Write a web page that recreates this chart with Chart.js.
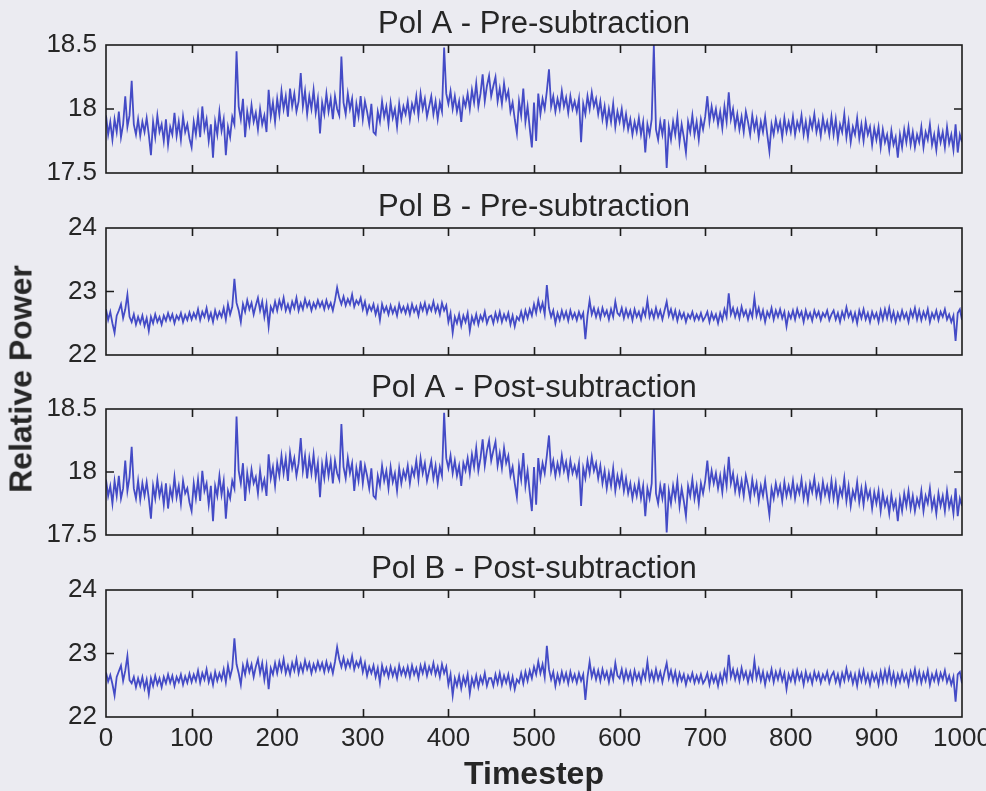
<!DOCTYPE html>
<html>
<head>
<meta charset="utf-8">
<script src="https://cdn.jsdelivr.net/npm/chart.js@4.4.1/dist/chart.umd.min.js"></script>
<style>
  body { margin: 0; background: #ebebf1; }
  #wrap { position: relative; width: 986px; height: 791px; overflow: hidden; }
  #wrap canvas { position: absolute; left: 0; }
  #ylabel {
    position: absolute; left: 21px; top: 379px;
    transform: translate(-50%, -50%) rotate(-90deg);
    font: bold 32px 'Liberation Sans', Arial, sans-serif;
    color: #262626; white-space: nowrap;
  }
</style>
</head>
<body>
<div id="wrap">
  <canvas id="c1" width="986" height="189" style="top:0px"></canvas>
  <canvas id="c2" width="986" height="188" style="top:183px"></canvas>
  <canvas id="c3" width="986" height="187" style="top:364px"></canvas>
  <canvas id="c4" width="986" height="246" style="top:545px"></canvas>
  <div id="ylabel">Relative Power</div>
</div>
<script>
// one sample every 2.5 timesteps (0..1000), 20 per row = 50 timesteps
const STEP = 2.5;
const xTickValues = [0, 100, 200, 300, 400, 500, 600, 700, 800, 900, 1000];
const polATicks = [17.5, 18, 18.5];
const polBTicks = [22, 23, 24];

const polAPre = [
  17.95, 17.8, 17.9, 17.76, 17.92, 17.82, 17.98, 17.78, 17.88, 18.1, 17.86, 17.95, 18.22, 17.88, 17.8, 17.92, 17.79, 17.9, 17.82, 17.93,
  17.8, 17.64, 17.9, 17.78, 17.95, 17.82, 17.88, 17.75, 17.92, 17.72, 17.86, 17.8, 17.97, 17.79, 17.9, 17.76, 17.94, 17.82, 17.88, 17.77,
  17.7, 17.9, 17.8, 17.95, 17.78, 18.02, 17.84, 17.92, 17.75, 17.88, 17.62, 17.9, 17.8, 17.98, 17.83, 17.92, 17.64, 17.86, 17.78, 17.94,
  17.88, 18.45, 18.02, 17.92, 18.08, 17.78, 17.98, 17.88, 18.03, 17.9, 17.97, 17.84, 18.0, 17.88, 17.95, 17.82, 18.15, 17.94, 18.05, 17.9,
  18.08, 17.96, 18.14, 18.0, 18.1, 17.94, 18.16, 18.02, 18.12, 17.98, 18.06, 18.28, 18.02, 18.14, 17.96, 18.1, 18.0, 18.15, 17.97, 18.08,
  17.81, 18.05, 17.96, 18.12, 17.98, 18.08, 17.92, 18.1, 18.0, 17.95, 18.41, 18.05, 17.96, 18.12, 18.0, 18.08, 17.86, 18.04, 17.94, 18.1,
  17.92, 18.06, 17.98, 17.88, 18.04, 17.82, 17.8, 17.98, 17.9, 18.06, 17.94, 18.02, 17.88, 18.05, 17.93, 18.0, 17.86, 18.04, 17.92, 18.02,
  17.96, 18.06, 17.92, 18.04, 17.98, 18.1, 17.95, 18.12, 18.0, 18.08, 17.94, 18.02, 18.1, 17.96, 18.06, 17.92, 18.05, 17.98, 18.48, 18.12,
  18.04, 18.14, 18.0, 18.1, 17.98, 18.06, 17.9, 18.08, 18.02, 18.12, 18.0, 18.15, 18.05, 18.2, 18.02, 18.12, 18.27, 18.06, 18.18, 18.26,
  18.1, 18.18, 18.25, 18.06, 18.16, 18.04, 18.2, 18.08, 18.14, 17.98, 18.05, 17.92, 17.81, 18.06, 17.95, 18.16, 17.9, 18.02, 17.85, 17.7,
  18.05, 17.75, 18.12, 17.96, 18.08, 18.0, 18.14, 18.31, 18.02, 18.1, 17.98, 18.08, 18.0, 18.14, 18.02, 18.09, 17.97, 18.1, 18.0, 18.06,
  17.98, 18.08, 17.74, 18.04, 17.96, 18.1, 18.0, 18.13, 18.02, 18.08, 17.96, 18.06, 17.92, 18.02, 17.88, 18.0, 17.9, 18.04, 17.86, 17.98,
  17.9, 18.0, 17.86, 17.96, 17.84, 17.92, 17.8, 17.9, 17.82, 17.93, 17.8, 17.9, 17.66, 17.88, 17.8, 17.92, 18.5, 17.84, 17.76, 17.9,
  17.8, 17.92, 17.54, 17.86, 17.76, 17.9, 17.8, 17.94, 17.74, 17.88, 17.78, 17.66, 17.9, 17.82, 17.95, 17.8, 17.9, 17.76, 17.92, 17.84,
  17.94, 18.1, 17.9, 18.02, 17.92, 18.0, 17.88, 17.98, 17.85, 18.02, 17.9, 18.13, 17.92, 18.0, 17.86, 17.96, 17.84, 17.94, 17.82, 17.98,
  17.9, 17.8, 17.95, 17.84, 17.92, 17.78, 17.9, 17.82, 17.94, 17.8, 17.67, 17.88, 17.8, 17.92, 17.83, 17.9, 17.78, 17.93, 17.82, 17.9,
  17.82, 17.94, 17.8, 17.9, 17.84, 17.95, 17.8, 17.9, 17.78, 17.92, 17.85, 17.96, 17.82, 17.9, 17.79, 17.93, 17.83, 17.9, 17.8, 17.94,
  17.8, 17.92, 17.76, 17.88, 17.82, 17.96, 17.78, 17.9, 17.74, 17.86, 17.8, 17.93, 17.77, 17.88, 17.75, 17.9, 17.8, 17.86, 17.72, 17.85,
  17.76, 17.86, 17.7, 17.84, 17.74, 17.8, 17.68, 17.83, 17.72, 17.78, 17.62, 17.8, 17.7, 17.84, 17.74, 17.86, 17.72, 17.82, 17.7, 17.8,
  17.74, 17.86, 17.7, 17.82, 17.76, 17.88, 17.72, 17.8, 17.68, 17.84, 17.74, 17.82, 17.7, 17.86, 17.73, 17.8, 17.68, 17.88, 17.66, 17.8,
  17.74
];

const polBPre = [
  22.72, 22.55, 22.68, 22.5, 22.35, 22.62, 22.7, 22.8, 22.58, 22.72, 22.95, 22.6, 22.52, 22.64, 22.48, 22.6, 22.5, 22.62, 22.46, 22.58,
  22.38, 22.6, 22.5, 22.64, 22.52, 22.6, 22.48, 22.62, 22.54, 22.66, 22.55, 22.64, 22.5, 22.62, 22.56, 22.66, 22.52, 22.63, 22.55, 22.67,
  22.56, 22.66, 22.58, 22.72, 22.55, 22.68, 22.6, 22.74, 22.56, 22.66, 22.52, 22.7, 22.58, 22.68, 22.6, 22.74, 22.56, 22.8, 22.64, 22.76,
  23.2, 22.82, 22.7, 22.52, 22.8, 22.68, 22.86, 22.72, 22.82, 22.64, 22.78, 22.9, 22.7, 22.84, 22.6, 22.8, 22.45, 22.76, 22.68, 22.84,
  22.7, 22.86, 22.74, 22.9, 22.7, 22.8, 22.68, 22.84, 22.74, 22.9, 22.7, 22.82, 22.72, 22.88, 22.76, 22.84, 22.7, 22.82, 22.74, 22.86,
  22.76, 22.84, 22.72, 22.86, 22.74, 22.82, 22.7, 22.86, 23.06, 22.9, 22.8, 22.92, 22.78, 22.88, 22.8, 22.95, 22.76, 22.86, 22.8, 22.9,
  22.72, 22.84, 22.66, 22.78, 22.7, 22.8, 22.64, 22.76, 22.55, 22.8, 22.68, 22.76, 22.64, 22.78, 22.66, 22.75, 22.62, 22.8, 22.68, 22.76,
  22.66, 22.78, 22.64, 22.8, 22.68, 22.76, 22.62, 22.8, 22.7, 22.82, 22.66, 22.78, 22.7, 22.84, 22.68, 22.78, 22.64, 22.82, 22.7, 22.78,
  22.52, 22.66, 22.35, 22.6, 22.5, 22.64, 22.46, 22.62, 22.52, 22.66, 22.38, 22.6, 22.5, 22.64, 22.48, 22.62, 22.54, 22.68, 22.5, 22.6,
  22.62, 22.5, 22.66, 22.54, 22.68, 22.52, 22.64, 22.55, 22.66, 22.48, 22.62, 22.45, 22.6, 22.55, 22.68, 22.54, 22.7, 22.58, 22.72, 22.62,
  22.8, 22.66, 22.86, 22.7, 22.82, 22.64, 23.1, 22.74, 22.6, 22.7, 22.5, 22.66, 22.55, 22.7, 22.58, 22.68, 22.54, 22.7, 22.58, 22.66,
  22.55, 22.68, 22.58, 22.66, 22.25, 22.62, 22.86, 22.64, 22.74, 22.6, 22.72, 22.58, 22.74, 22.62, 22.7, 22.56, 22.72, 22.6, 22.84, 22.66,
  22.62, 22.74, 22.58, 22.72, 22.6, 22.7, 22.55, 22.72, 22.6, 22.68, 22.56, 22.72, 22.62, 22.86, 22.6, 22.7, 22.58, 22.74, 22.6, 22.7,
  22.56, 22.7, 22.84, 22.62, 22.72, 22.58, 22.7, 22.54, 22.68, 22.58, 22.66, 22.52, 22.64, 22.58, 22.68, 22.55, 22.64, 22.56, 22.66, 22.54,
  22.6, 22.68, 22.52, 22.66, 22.56, 22.64, 22.5, 22.66, 22.55, 22.72, 22.6, 22.97, 22.64, 22.74, 22.6, 22.72, 22.58, 22.76, 22.62, 22.7,
  22.56, 22.7, 22.6, 22.9, 22.62, 22.74, 22.58, 22.7, 22.52, 22.68, 22.6, 22.74, 22.56, 22.7, 22.6, 22.72, 22.58, 22.68, 22.45, 22.66,
  22.58, 22.7, 22.56, 22.72, 22.6, 22.68, 22.52, 22.7, 22.58, 22.66, 22.54, 22.7, 22.6, 22.68, 22.55, 22.66, 22.6, 22.7, 22.55, 22.64,
  22.7, 22.56, 22.66, 22.52, 22.68, 22.58, 22.75, 22.6, 22.68, 22.54, 22.66, 22.5, 22.7, 22.58, 22.72, 22.56, 22.66, 22.52, 22.68, 22.58,
  22.66, 22.52, 22.7, 22.56, 22.72, 22.58, 22.74, 22.55, 22.68, 22.52, 22.66, 22.56, 22.7, 22.58, 22.66, 22.52, 22.7, 22.6, 22.74, 22.56,
  22.7, 22.55, 22.68, 22.58, 22.72, 22.52, 22.66, 22.58, 22.7, 22.55, 22.68, 22.6, 22.72, 22.56, 22.64, 22.52, 22.62, 22.22, 22.66, 22.72,
  22.55
];

const polAPost = [
  17.94, 17.81, 17.89, 17.75, 17.93, 17.81, 17.97, 17.79, 17.87, 18.09, 17.85, 17.96, 18.2, 17.87, 17.79, 17.93, 17.78, 17.91, 17.81, 17.92,
  17.79, 17.63, 17.89, 17.79, 17.94, 17.81, 17.89, 17.74, 17.91, 17.71, 17.87, 17.79, 17.96, 17.8, 17.89, 17.75, 17.93, 17.83, 17.87, 17.76,
  17.69, 17.91, 17.79, 17.94, 17.77, 18.01, 17.85, 17.91, 17.74, 17.89, 17.61, 17.89, 17.81, 17.97, 17.82, 17.93, 17.63, 17.85, 17.79, 17.93,
  17.87, 18.44, 18.01, 17.91, 18.07, 17.77, 17.99, 17.87, 18.02, 17.91, 17.96, 17.83, 18.01, 17.87, 17.94, 17.81, 18.14, 17.95, 18.04, 17.89,
  18.07, 17.97, 18.13, 17.99, 18.11, 17.93, 18.15, 18.03, 18.11, 17.97, 18.07, 18.27, 18.01, 18.13, 17.95, 18.11, 17.99, 18.14, 17.96, 18.07,
  17.8, 18.06, 17.95, 18.11, 17.97, 18.09, 17.91, 18.09, 17.99, 17.94, 18.38, 18.04, 17.95, 18.11, 17.99, 18.07, 17.85, 18.03, 17.93, 18.09,
  17.91, 18.05, 17.97, 17.87, 18.03, 17.81, 17.79, 17.97, 17.89, 18.05, 17.93, 18.01, 17.87, 18.04, 17.92, 17.99, 17.85, 18.03, 17.91, 18.01,
  17.95, 18.05, 17.91, 18.03, 17.97, 18.09, 17.94, 18.11, 17.99, 18.07, 17.93, 18.01, 18.09, 17.95, 18.05, 17.91, 18.04, 17.97, 18.47, 18.11,
  18.03, 18.13, 17.99, 18.09, 17.97, 18.05, 17.89, 18.07, 18.01, 18.11, 17.99, 18.14, 18.04, 18.19, 18.01, 18.11, 18.26, 18.05, 18.17, 18.25,
  18.09, 18.17, 18.24, 18.05, 18.15, 18.03, 18.19, 18.07, 18.13, 17.97, 18.04, 17.91, 17.8, 18.05, 17.94, 18.15, 17.89, 18.01, 17.84, 17.69,
  18.04, 17.74, 18.11, 17.95, 18.07, 17.99, 18.13, 18.29, 18.01, 18.09, 17.97, 18.07, 17.99, 18.13, 18.01, 18.08, 17.96, 18.09, 17.99, 18.05,
  17.97, 18.07, 17.73, 18.03, 17.95, 18.09, 17.99, 18.12, 18.01, 18.07, 17.95, 18.05, 17.91, 18.01, 17.87, 17.99, 17.89, 18.03, 17.85, 17.97,
  17.89, 17.99, 17.85, 17.95, 17.83, 17.91, 17.79, 17.89, 17.81, 17.92, 17.79, 17.89, 17.65, 17.87, 17.79, 17.91, 18.5, 17.83, 17.75, 17.89,
  17.79, 17.91, 17.52, 17.85, 17.75, 17.89, 17.79, 17.93, 17.73, 17.87, 17.77, 17.65, 17.89, 17.81, 17.94, 17.79, 17.89, 17.75, 17.91, 17.83,
  17.93, 18.09, 17.89, 18.01, 17.91, 17.99, 17.87, 17.97, 17.84, 18.01, 17.89, 18.12, 17.91, 17.99, 17.85, 17.95, 17.83, 17.93, 17.81, 17.97,
  17.89, 17.79, 17.94, 17.83, 17.91, 17.77, 17.89, 17.81, 17.93, 17.79, 17.66, 17.87, 17.79, 17.91, 17.82, 17.89, 17.77, 17.92, 17.81, 17.89,
  17.81, 17.93, 17.79, 17.89, 17.83, 17.94, 17.79, 17.89, 17.77, 17.91, 17.84, 17.95, 17.81, 17.89, 17.78, 17.92, 17.82, 17.89, 17.79, 17.93,
  17.79, 17.91, 17.75, 17.87, 17.81, 17.95, 17.77, 17.89, 17.73, 17.85, 17.79, 17.92, 17.76, 17.87, 17.74, 17.89, 17.79, 17.85, 17.71, 17.84,
  17.75, 17.85, 17.69, 17.83, 17.73, 17.79, 17.67, 17.82, 17.71, 17.77, 17.61, 17.79, 17.69, 17.83, 17.73, 17.85, 17.71, 17.81, 17.69, 17.79,
  17.73, 17.85, 17.69, 17.81, 17.75, 17.87, 17.71, 17.79, 17.67, 17.83, 17.73, 17.81, 17.69, 17.85, 17.72, 17.79, 17.67, 17.87, 17.65, 17.79,
  17.73
];

const polBPost = [
  22.7, 22.56, 22.66, 22.52, 22.34, 22.63, 22.72, 22.81, 22.57, 22.73, 22.96, 22.58, 22.53, 22.63, 22.47, 22.61, 22.49, 22.63, 22.45, 22.59,
  22.36, 22.61, 22.49, 22.65, 22.51, 22.61, 22.47, 22.63, 22.53, 22.67, 22.54, 22.65, 22.49, 22.63, 22.55, 22.67, 22.51, 22.64, 22.54, 22.68,
  22.55, 22.67, 22.57, 22.73, 22.54, 22.69, 22.59, 22.75, 22.55, 22.67, 22.51, 22.71, 22.57, 22.69, 22.59, 22.75, 22.55, 22.81, 22.63, 22.77,
  23.24, 22.83, 22.69, 22.51, 22.81, 22.67, 22.87, 22.71, 22.83, 22.63, 22.79, 22.91, 22.69, 22.85, 22.59, 22.81, 22.44, 22.77, 22.67, 22.85,
  22.69, 22.87, 22.73, 22.91, 22.69, 22.81, 22.67, 22.85, 22.73, 22.91, 22.69, 22.83, 22.71, 22.89, 22.75, 22.85, 22.69, 22.83, 22.73, 22.87,
  22.75, 22.85, 22.71, 22.87, 22.73, 22.83, 22.69, 22.87, 23.1, 22.91, 22.79, 22.93, 22.77, 22.89, 22.79, 22.96, 22.75, 22.87, 22.79, 22.91,
  22.71, 22.85, 22.65, 22.79, 22.69, 22.81, 22.63, 22.77, 22.54, 22.81, 22.67, 22.77, 22.63, 22.79, 22.65, 22.76, 22.61, 22.81, 22.67, 22.77,
  22.65, 22.79, 22.63, 22.81, 22.67, 22.77, 22.61, 22.81, 22.69, 22.83, 22.65, 22.79, 22.69, 22.85, 22.67, 22.79, 22.63, 22.83, 22.69, 22.79,
  22.51, 22.67, 22.34, 22.61, 22.49, 22.65, 22.45, 22.63, 22.51, 22.67, 22.37, 22.61, 22.49, 22.65, 22.47, 22.63, 22.53, 22.69, 22.49, 22.61,
  22.61, 22.49, 22.67, 22.53, 22.69, 22.51, 22.65, 22.54, 22.67, 22.47, 22.63, 22.44, 22.59, 22.54, 22.69, 22.53, 22.71, 22.57, 22.73, 22.61,
  22.79, 22.67, 22.87, 22.69, 22.83, 22.63, 23.12, 22.75, 22.59, 22.71, 22.49, 22.67, 22.54, 22.71, 22.57, 22.69, 22.53, 22.71, 22.57, 22.67,
  22.54, 22.69, 22.57, 22.67, 22.27, 22.63, 22.87, 22.63, 22.75, 22.59, 22.73, 22.57, 22.75, 22.61, 22.71, 22.55, 22.73, 22.59, 22.85, 22.65,
  22.61, 22.75, 22.57, 22.73, 22.59, 22.71, 22.54, 22.73, 22.59, 22.69, 22.55, 22.73, 22.61, 22.87, 22.59, 22.71, 22.57, 22.75, 22.59, 22.71,
  22.55, 22.71, 22.85, 22.61, 22.73, 22.57, 22.71, 22.53, 22.69, 22.57, 22.67, 22.51, 22.65, 22.57, 22.69, 22.54, 22.65, 22.55, 22.67, 22.53,
  22.59, 22.69, 22.51, 22.67, 22.55, 22.65, 22.49, 22.67, 22.54, 22.73, 22.59, 22.98, 22.63, 22.75, 22.59, 22.73, 22.57, 22.77, 22.61, 22.71,
  22.55, 22.71, 22.59, 22.89, 22.61, 22.75, 22.57, 22.71, 22.51, 22.69, 22.59, 22.75, 22.55, 22.71, 22.59, 22.73, 22.57, 22.69, 22.44, 22.67,
  22.57, 22.71, 22.55, 22.73, 22.59, 22.69, 22.51, 22.71, 22.57, 22.67, 22.53, 22.71, 22.59, 22.69, 22.54, 22.67, 22.59, 22.71, 22.54, 22.65,
  22.71, 22.55, 22.67, 22.51, 22.69, 22.57, 22.76, 22.59, 22.69, 22.53, 22.67, 22.49, 22.71, 22.57, 22.73, 22.55, 22.67, 22.51, 22.69, 22.57,
  22.67, 22.51, 22.71, 22.55, 22.73, 22.57, 22.75, 22.54, 22.69, 22.51, 22.67, 22.55, 22.71, 22.57, 22.67, 22.51, 22.71, 22.59, 22.75, 22.55,
  22.71, 22.54, 22.69, 22.57, 22.73, 22.51, 22.67, 22.57, 22.71, 22.54, 22.69, 22.59, 22.73, 22.55, 22.65, 22.51, 22.63, 22.24, 22.67, 22.71,
  22.53
];

const FONT = "'Liberation Sans', Arial, sans-serif";
const TEXT = '#262626';
const LINE = '#444bc6';

// matlab-ish box with inward ticks
const matlabFrame = {
  id: 'matlabFrame',
  afterDatasetsDraw(chart, args, opts) {
    const { ctx, chartArea: a } = chart;
    const xs = chart.scales.x, ys = chart.scales.y;
    ctx.save();
    ctx.strokeStyle = '#1c1c1c';
    ctx.lineWidth = 1.6;
    ctx.beginPath();
    xTickValues.slice(1, -1).forEach(v => {
      const px = Math.round(xs.getPixelForValue(v)) + 0.5;
      ctx.moveTo(px, a.top); ctx.lineTo(px, a.top + 8);
      ctx.moveTo(px, a.bottom); ctx.lineTo(px, a.bottom - 8);
    });
    const py = ys.getPixelForValue(opts.midTick);
    ctx.moveTo(a.left, py); ctx.lineTo(a.left + 8, py);
    ctx.moveTo(a.right, py); ctx.lineTo(a.right - 8, py);
    ctx.stroke();
    ctx.strokeRect(a.left, a.top, a.right - a.left, a.bottom - a.top);
    ctx.restore();
  }
};

function makePanel(id, values, yTicks, title, last) {
  const points = values.map((v, i) => ({ x: i * STEP, y: v }));
  new Chart(document.getElementById(id), {
    type: 'line',
    data: {
      datasets: [{
        data: points,
        borderColor: LINE,
        borderWidth: 1.8,
        pointRadius: 0,
        tension: 0
      }]
    },
    options: {
      responsive: false,
      animation: false,
      events: [],
      layout: { padding: { left: 0, right: 24, top: 0, bottom: last ? 0 : 16 } },
      plugins: {
        legend: { display: false },
        tooltip: { enabled: false },
        title: {
          display: true,
          text: title,
          fullSize: false,
          color: TEXT,
          font: { family: FONT, size: 31, weight: 'normal', lineHeight: 1.2 },
          padding: { top: 6, bottom: 1.8 }
        },
        matlabFrame: { midTick: yTicks[1] }
      },
      scales: {
        x: {
          type: 'linear',
          display: last,
          min: 0, max: 1000,
          afterBuildTicks: s => { s.ticks = xTickValues.map(v => ({ value: v })); },
          afterFit: s => { s.paddingLeft = 0; s.paddingRight = 0; if (last) s.height = 74; },
          grid: { display: false, drawTicks: false },
          border: { display: false },
          ticks: {
            color: TEXT, padding: 6, maxRotation: 0,
            font: { family: FONT, size: 26 },
            callback: v => String(v)
          },
          title: {
            display: last,
            text: 'Timestep',
            color: TEXT,
            padding: { top: 0, bottom: -3 },
            font: { family: FONT, size: 32, weight: 'bold', lineHeight: 1.2 }
          }
        },
        y: {
          min: yTicks[0], max: yTicks[2],
          afterBuildTicks: s => { s.ticks = yTicks.map(v => ({ value: v })); },
          afterFit: s => { s.width = 106; s.paddingTop = 0; s.paddingBottom = 0; },
          grid: { display: false, drawTicks: false },
          border: { display: false },
          ticks: {
            color: TEXT, padding: 9,
            font: { family: FONT, size: 26 },
            callback: v => String(v)
          }
        }
      }
    },
    plugins: [matlabFrame]
  });
}

makePanel('c1', polAPre, polATicks, 'Pol A - Pre-subtraction', false);
makePanel('c2', polBPre, polBTicks, 'Pol B - Pre-subtraction', false);
makePanel('c3', polAPost, polATicks, 'Pol A - Post-subtraction', false);
makePanel('c4', polBPost, polBTicks, 'Pol B - Post-subtraction', true);
</script>
</body>
</html>
